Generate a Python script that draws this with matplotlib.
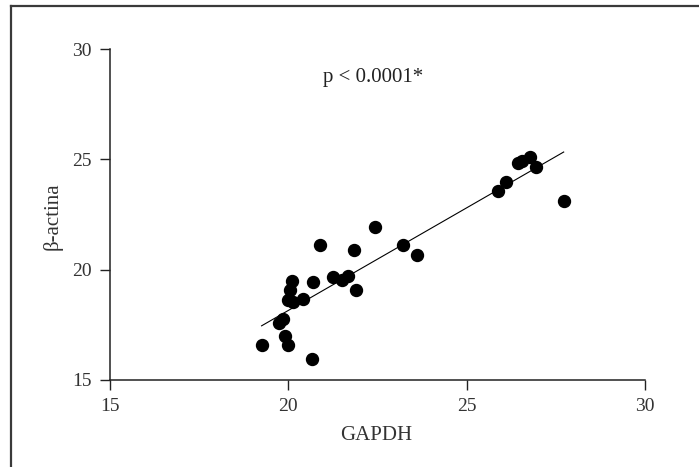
import numpy as np
import matplotlib
matplotlib.use("Agg")
import matplotlib.pyplot as plt
from matplotlib.lines import Line2D

# Ct values: GAPDH (x) vs beta-actin (y)
gapdh = [19.25, 19.91, 19.98, 20.67, 19.74, 19.86, 19.99, 20.13, 20.06, 20.10,
         20.42, 20.68, 20.88, 21.24, 21.50, 21.67, 21.83, 21.91, 22.44, 23.22,
         23.61, 25.87, 26.10, 26.45, 26.55, 26.78, 26.95, 27.72]
actina = [16.57, 17.00, 16.57, 15.97, 17.58, 17.75, 18.62, 18.52, 19.07, 19.48,
          18.67, 19.44, 21.14, 19.67, 19.55, 19.72, 20.89, 19.08, 21.93, 21.14,
          20.68, 23.55, 23.98, 24.82, 24.92, 25.10, 24.65, 23.13]

x_ticks = [15, 20, 25, 30]
y_ticks = [15, 20, 25, 30]
p_label = "p < 0.0001*"

plt.rcParams["font.family"] = ["Liberation Serif", "DejaVu Serif"]

W, H = 699, 467
fig = plt.figure(figsize=(W / 100, H / 100), dpi=100)
ax = fig.add_axes([110 / W, 1 - 380 / H, 535 / W, 331 / H])

ax.plot(gapdh, actina, "o", color="black", markersize=8.6, clip_on=False, zorder=3)

# least-squares regression line over the observed GAPDH range
slope, intercept = np.polyfit(gapdh, actina, 1)
xf = np.array([min(gapdh), max(gapdh)])
ax.plot(xf, slope * xf + intercept, color="black", linewidth=0.8, zorder=2)

ax.set_xlim(15, 30)
ax.set_ylim(15, 30)
ax.set_xticks(x_ticks)
ax.set_yticks(y_ticks)
ax.spines["top"].set_visible(False)
ax.spines["right"].set_visible(False)
for s in ("left", "bottom"):
    ax.spines[s].set_linewidth(1.1)
    ax.spines[s].set_color("#222222")
ax.tick_params(direction="out", length=7, width=1.0, color="#222222",
               labelsize=14, labelcolor="#333333", pad=6)

ax.text(22.38, 28.73, p_label, ha="center", va="center", fontsize=15,
        color="#222222")

fig.text(376 / W, 1 - 435 / H, "GAPDH", ha="center", va="center",
         fontsize=15, color="#333333")
fig.text(53 / W, 1 - 216 / H, "β-actina", ha="center", va="center",
         rotation=90, fontsize=15, color="#333333")

# frame lines along the top and left edge
fig.add_artist(Line2D([11 / W, 1.0], [1 - 6 / H, 1 - 6 / H],
                      transform=fig.transFigure, color="#3a3a3a", linewidth=1.6))
fig.add_artist(Line2D([11 / W, 11 / W], [0.0, 1 - 6 / H],
                      transform=fig.transFigure, color="#3a3a3a", linewidth=1.6))

fig.savefig("out.png", dpi=100, facecolor="white")
